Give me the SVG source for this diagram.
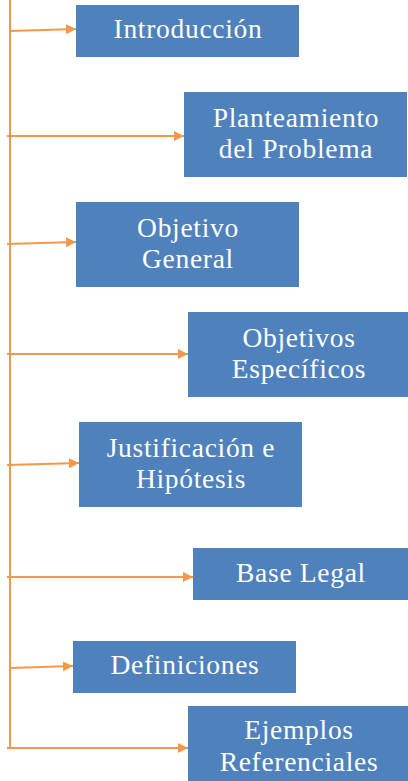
<svg xmlns="http://www.w3.org/2000/svg" width="408" height="781" viewBox="0 0 408 781">
<style>
.box{fill:#4F81BD}
.t{font-family:"Liberation Serif","DejaVu Serif",serif;font-size:27.5px;letter-spacing:0.7px;fill:#FFFFFF;text-anchor:middle}
.c{stroke:#F79646;stroke-width:2;fill:none}
</style>
<defs>
<marker id="ah" viewBox="0 0 10 10" refX="10" refY="5" markerWidth="5" markerHeight="5" orient="auto" markerUnits="strokeWidth">
<path d="M0,0 L10,5 L0,10 z" fill="#F79646"/>
</marker>
</defs>
<rect width="408" height="781" fill="#FFFFFF"/>
<g id="connectors">
<line class="c" x1="10" y1="0" x2="10" y2="749"/>
<line class="c" x1="10" y1="31" x2="76" y2="29" marker-end="url(#ah)"/>
<line class="c" x1="7" y1="136" x2="184" y2="136" marker-end="url(#ah)"/>
<line class="c" x1="7" y1="244" x2="76" y2="242" marker-end="url(#ah)"/>
<line class="c" x1="7" y1="354" x2="188" y2="354" marker-end="url(#ah)"/>
<line class="c" x1="7" y1="465" x2="79" y2="463" marker-end="url(#ah)"/>
<line class="c" x1="7" y1="577" x2="193" y2="577" marker-end="url(#ah)"/>
<line class="c" x1="10" y1="668" x2="73" y2="666" marker-end="url(#ah)"/>
<line class="c" x1="7" y1="748" x2="188" y2="748" marker-end="url(#ah)"/>
</g>
<g id="n1"><rect class="box" x="76" y="5" width="223" height="52"/><text class="t" x="188" y="38">Introducción</text></g>
<g id="n2"><rect class="box" x="184" y="92" width="223" height="85"/><text class="t" x="296" y="127">Planteamiento</text><text class="t" x="296" y="158">del Problema</text></g>
<g id="n3"><rect class="box" x="76" y="202" width="223" height="85"/><text class="t" x="188" y="237">Objetivo</text><text class="t" x="188" y="268">General</text></g>
<g id="n4"><rect class="box" x="188" y="312" width="220" height="85"/><text class="t" x="299" y="347">Objetivos</text><text class="t" x="299" y="378">Específicos</text></g>
<g id="n5"><rect class="box" x="79" y="422" width="223" height="85"/><text class="t" x="191" y="457">Justificación e</text><text class="t" x="191" y="488">Hipótesis</text></g>
<g id="n6"><rect class="box" x="193" y="548" width="215" height="52"/><text class="t" x="301" y="582">Base Legal</text></g>
<g id="n7"><rect class="box" x="73" y="641" width="223" height="52"/><text class="t" x="185" y="674">Definiciones</text></g>
<g id="n8"><rect class="box" x="188" y="706" width="220" height="75"/><text class="t" x="299" y="739">Ejemplos</text><text class="t" x="299" y="771">Referenciales</text></g>
</svg>
